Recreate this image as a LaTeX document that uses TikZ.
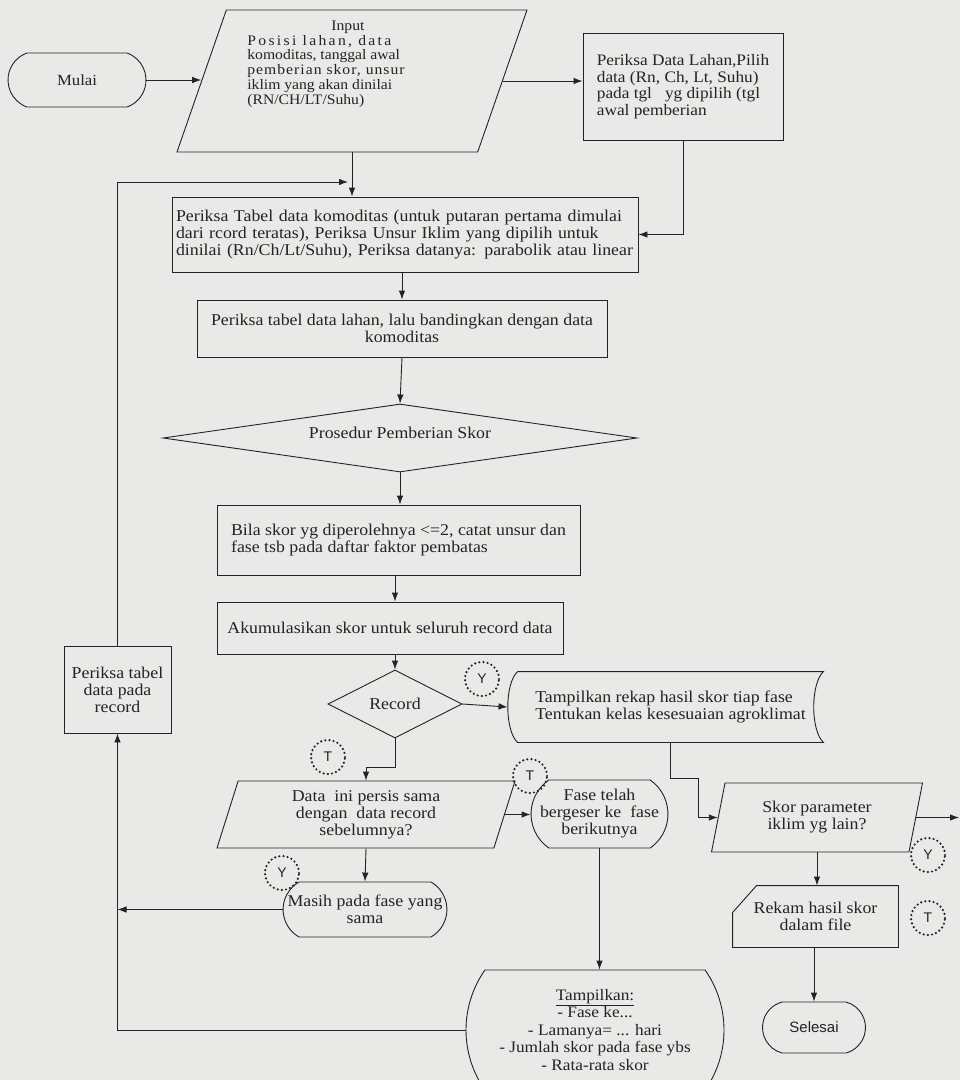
\documentclass[tikz,border=0pt]{standalone}
\usepackage{fontspec}
\setmainfont{Liberation Serif}[FakeStretch=1.08]
\setsansfont{Liberation Sans}
\usetikzlibrary{shapes.geometric,shapes.misc,arrows.meta}
\definecolor{kertas}{RGB}{233,233,231}
\definecolor{tinta}{RGB}{35,35,35}

\begin{document}
\begin{tikzpicture}[x=1pt,y=-1pt,line width=0.9pt,color=tinta,
  >={Latex[length=9pt,width=6.5pt]},
  font=\fontsize{16.5}{17}\selectfont]
\useasboundingbox (0,0) rectangle (960,1080);
\fill[kertas] (0,0) rectangle (960,1080);

\begin{scope}[every node/.style={rounded rectangle,draw,inner sep=1pt,align=center}]
\node[minimum width=140,minimum height=54,rounded rectangle arc length=140,font=\fontsize{15.5}{15.5}\selectfont] (mulai) at (77,80) {Mulai};
\node[minimum width=135,minimum height=68,rounded rectangle arc length=110] (fase) at (599.5,814) {Fase telah\\ bergeser ke\ \ fase\\ berikutnya};
\node[minimum width=161,minimum height=55,rounded rectangle arc length=120] (masih) at (365,909.5) {Masih pada fase yang\\ sama};
\node[minimum width=260,minimum height=120,rounded rectangle arc length=70,font=\fontsize{16}{17.5}\selectfont] (tampil) at (595,1030) {\underline{Tampilkan:}\\ - Fase ke...\\ - Lamanya= ... hari\\ - Jumlah skor pada fase ybs\\ - Rata-rata skor};
\node[minimum width=105,minimum height=51,rounded rectangle arc length=150,font=\sffamily\fontsize{15}{15}\selectfont] (selesai) at (814,1027.5) {Selesai};
\end{scope}

\begin{scope}[every node/.style={rectangle,draw,inner sep=2pt}]
\node[minimum width=200,minimum height=107,align=left,font=\fontsize{16}{16.5}\selectfont] (cekLahan) at (683,86.5) {Periksa Data Lahan,Pilih\\ data (Rn, Ch, Lt, Suhu)\\ pada tgl\ \ \ yg dipilih (tgl\\ awal pemberian};
\node[minimum height=75,inner xsep=4pt,text width=458,align=left] (cekTabel) at (405,234.5) {Periksa Tabel data komoditas (untuk putaran pertama dimulai\\ dari rcord teratas), Periksa Unsur Iklim yang dipilih untuk\\ dinilai (Rn/Ch/Lt/Suhu), Periksa datanya: parabolik atau linear};
\node[minimum width=410,minimum height=57,align=center] (dataLahan) at (402,328.5) {Periksa tabel data lahan, lalu bandingkan dengan data\\ komoditas};
\node[minimum width=363,minimum height=70,align=left] (bilaSkor) at (398.5,540) {Bila skor yg diperolehnya <=2, catat unsur dan\\ fase tsb pada daftar faktor pembatas};
\node[minimum width=346,minimum height=52] (akum) at (390,628) {Akumulasikan skor untuk seluruh record data};
\node[minimum width=107,minimum height=87,align=center] (cekRecord) at (117.5,689.5) {Periksa tabel\\ data pada\\ record};
\end{scope}

\begin{scope}[every node/.style={trapezium,draw,trapezium stretches body=true,inner sep=1pt,align=center}]
\node[trapezium left angle=61.8,trapezium right angle=118.2,minimum width=350,minimum height=142,font=\fontsize{14.5}{14.8}\selectfont] (input) at (352,81) {\raisebox{13pt}[45pt][45pt]{\begin{tabular}{@{}l@{}}\hspace*{84pt}Input\\ {\addfontfeature{LetterSpace=16}Posisi lahan, data}\\ komoditas, tanggal awal\\ {\addfontfeature{LetterSpace=7}pemberian skor, unsur}\\ iklim yang akan dinilai\\ (RN/CH/LT/Suhu)\end{tabular}}\hspace*{52pt}};
\node[trapezium left angle=67.3,trapezium right angle=112.7,minimum width=298,minimum height=67] (dataIni) at (366,814.5) {Data\ \ ini persis sama\\ dengan\ \ data record\\ sebelumnya?};
\node[trapezium left angle=68.3,trapezium right angle=111.7,minimum width=211,minimum height=69] (skor) at (817,817.5) {Skor parameter\\ iklim yg lain?};
\end{scope}

\begin{scope}[every node/.style={diamond,draw,inner sep=0pt}]
\node[minimum width=474,minimum height=68,aspect=7] (prosedur) at (400,438) {\raisebox{10pt}{Prosedur Pemberian Skor}};
\node[minimum width=134,minimum height=68,aspect=2] (record) at (395,704) {Record};
\end{scope}

\node[minimum width=305,minimum height=70,align=left] (rekap) at (670.5,707) {Tampilkan rekap hasil skor tiap fase\\ Tentukan kelas kesesuaian agroklimat};
\draw (rekap.north west) -- (rekap.north east) .. controls +(-13,12) and +(-13,-12) .. (rekap.south east) -- (rekap.south west) .. controls +(-13,-12) and +(-13,12) .. (rekap.north west);
\node[minimum width=165,minimum height=61,align=center] (rekam) at (815.5,916.5) {Rekam hasil skor\\ dalam file};
\draw ([xshift=24pt]rekam.north west) -- (rekam.north east) -- (rekam.south east) -- (rekam.south west) -- ([yshift=-27pt]rekam.north west) -- cycle;

\begin{scope}[every node/.style={circle,draw,line width=2.4pt,dash pattern=on 0pt off 4.2pt,line cap=round,minimum size=34,inner sep=0pt,font=\sffamily\fontsize{14}{14}\selectfont}]
\node (yRecord) at (482,679) {Y};
\node (tRecord) at (328,757) {T};
\node (tData) at (530,776) {T};
\node (yData) at (282,873) {Y};
\node (ySkor) at (928,855) {Y};
\node (tSkor) at (928,918) {T};
\end{scope}

\coordinate (gabung) at (348,182);
\coordinate (keluar) at (959,817.5);

\draw[->] (mulai.east) -- (mulai.east -| input.west);
\draw[->] (input.east) -- (input.east -| cekLahan.west);
\draw[->] (input.center |- input.south) -- (input.center |- cekTabel.north);
\draw[->] (cekLahan.south) |- (cekTabel.east);
\draw[->] (cekTabel.south -| dataLahan.north) -- (dataLahan.north);
\draw[->] (dataLahan.south) -- (prosedur.north);
\draw[->] (prosedur.south) -- (prosedur.south |- bilaSkor.north);
\draw[->] (record.north |- bilaSkor.south) -- (record.north |- akum.north);
\draw[->] (record.north |- akum.south) -- (record.north);
\draw[->] (record.east) -- ([xshift=-10pt]rekap.west);
\draw[->] (record.south) -- ++(0,29) -| (dataIni.center |- dataIni.north);
\draw[->] (dataIni.east) -- (dataIni.east -| fase.west);
\draw[->] (dataIni.center |- dataIni.south) -- (masih.north);
\draw[->] (masih.west) -- (masih.west -| cekRecord.south);
\draw[->] (fase.south) -- (fase.south |- tampil.north);
\draw[->] (tampil.west) -| (cekRecord.south);
\draw[->] (cekRecord.north) |- (gabung);
\draw[->] (rekap.south) -- ++(0,36) -- ++(28,0) |- (skor.west);
\draw[->] (skor.east) -- (keluar);
\draw[->] (skor.center |- skor.south) -- (skor.center |- rekam.north);
\draw[->] (selesai.north |- rekam.south) -- (selesai.north);
\end{tikzpicture}
\end{document}
